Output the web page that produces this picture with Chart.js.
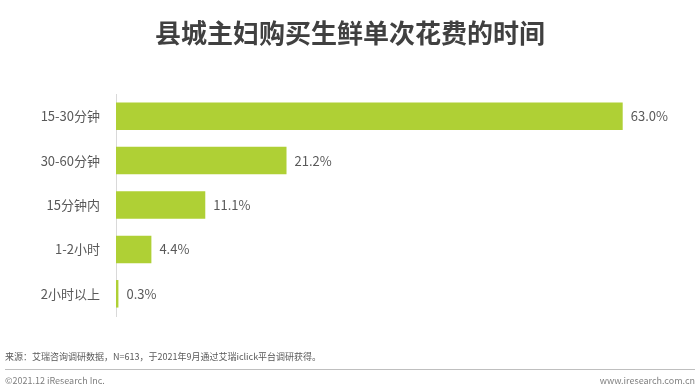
<!DOCTYPE html>
<html>
<head>
<meta charset="utf-8">
<script src="https://cdn.jsdelivr.net/npm/chart.js@4"></script>
<style>
  html, body { margin: 0; padding: 0; background: #fff; }
  body { width: 700px; height: 392px; position: relative; overflow: hidden;
         font-family: "Noto Sans CJK SC", "Noto Sans", sans-serif; }
  #wrap { position: absolute; left: 0; top: 0; width: 700px; height: 392px; }
  .title { position: absolute; left: 0; width: 700px; top: 14px; text-align: center;
           font-size: 26px; font-weight: bold; color: #404040; line-height: 36px; }
  .src { position: absolute; left: 5px; top: 350px; font-size: 9px; color: #595959; }
  .sep { position: absolute; left: 5px; width: 690px; top: 369px; height: 1px; background: #bfbfbf; }
  .copy { position: absolute; left: 5px; top: 374px; font-size: 9px; color: #7f7f7f; }
  .site { position: absolute; right: 5px; top: 374px; font-size: 9px; color: #7f7f7f; }
</style>
</head>
<body>
<div id="wrap"><canvas id="grafico"></canvas></div>
<div class="title">县城主妇购买生鲜单次花费的时间</div>
<div class="src">来源：艾瑞咨询调研数据，N=613，于2021年9月通过艾瑞iclick平台调研获得。</div>
<div class="sep"></div>
<div class="copy">©2021.12 iResearch Inc.</div>
<div class="site">www.iresearch.com.cn</div>
<script>
// categorias e valores (%)
const categorias = ['15-30分钟', '30-60分钟', '15分钟内', '1-2小时', '2小时以上'];
const valores = [63.0, 21.2, 11.1, 4.4, 0.3];

// desenha o rótulo de valor no fim de cada barra
const rotulos = {
    id: 'rotulos',
    afterDatasetsDraw(chart) {
        const ctx = chart.ctx;
        const meta = chart.getDatasetMeta(0);
        ctx.save();
        ctx.font = '13px "Noto Sans CJK SC", sans-serif';
        ctx.fillStyle = '#595959';
        ctx.textBaseline = 'middle';
        meta.data.forEach((bar, i) => {
            ctx.fillText(valores[i].toFixed(1) + '%', bar.x + 8, bar.y);
        });
        ctx.restore();
    }
};

new Chart(document.getElementById('grafico'), {
    type: 'bar',
    data: {
        labels: categorias,
        datasets: [{
            data: valores,
            backgroundColor: '#afd035',
            barPercentage: 0.62,
            categoryPercentage: 1
        }]
    },
    options: {
        indexAxis: 'y',
        responsive: true,
        maintainAspectRatio: false,
        animation: false,
        layout: { padding: { top: 94, bottom: 76, right: 21, left: 0 } },
        plugins: { legend: { display: false }, tooltip: { enabled: false } },
        scales: {
            x: { display: false, min: 0, max: 70 },
            y: {
                grid: { display: false },
                border: { color: '#d9d9d9' },
                ticks: {
                    color: '#595959',
                    padding: 8,
                    font: { size: 13, family: '"Noto Sans CJK SC", sans-serif' }
                },
                afterFit(scale) { scale.width = 116; }
            }
        }
    },
    plugins: [rotulos]
});
</script>
</body>
</html>
